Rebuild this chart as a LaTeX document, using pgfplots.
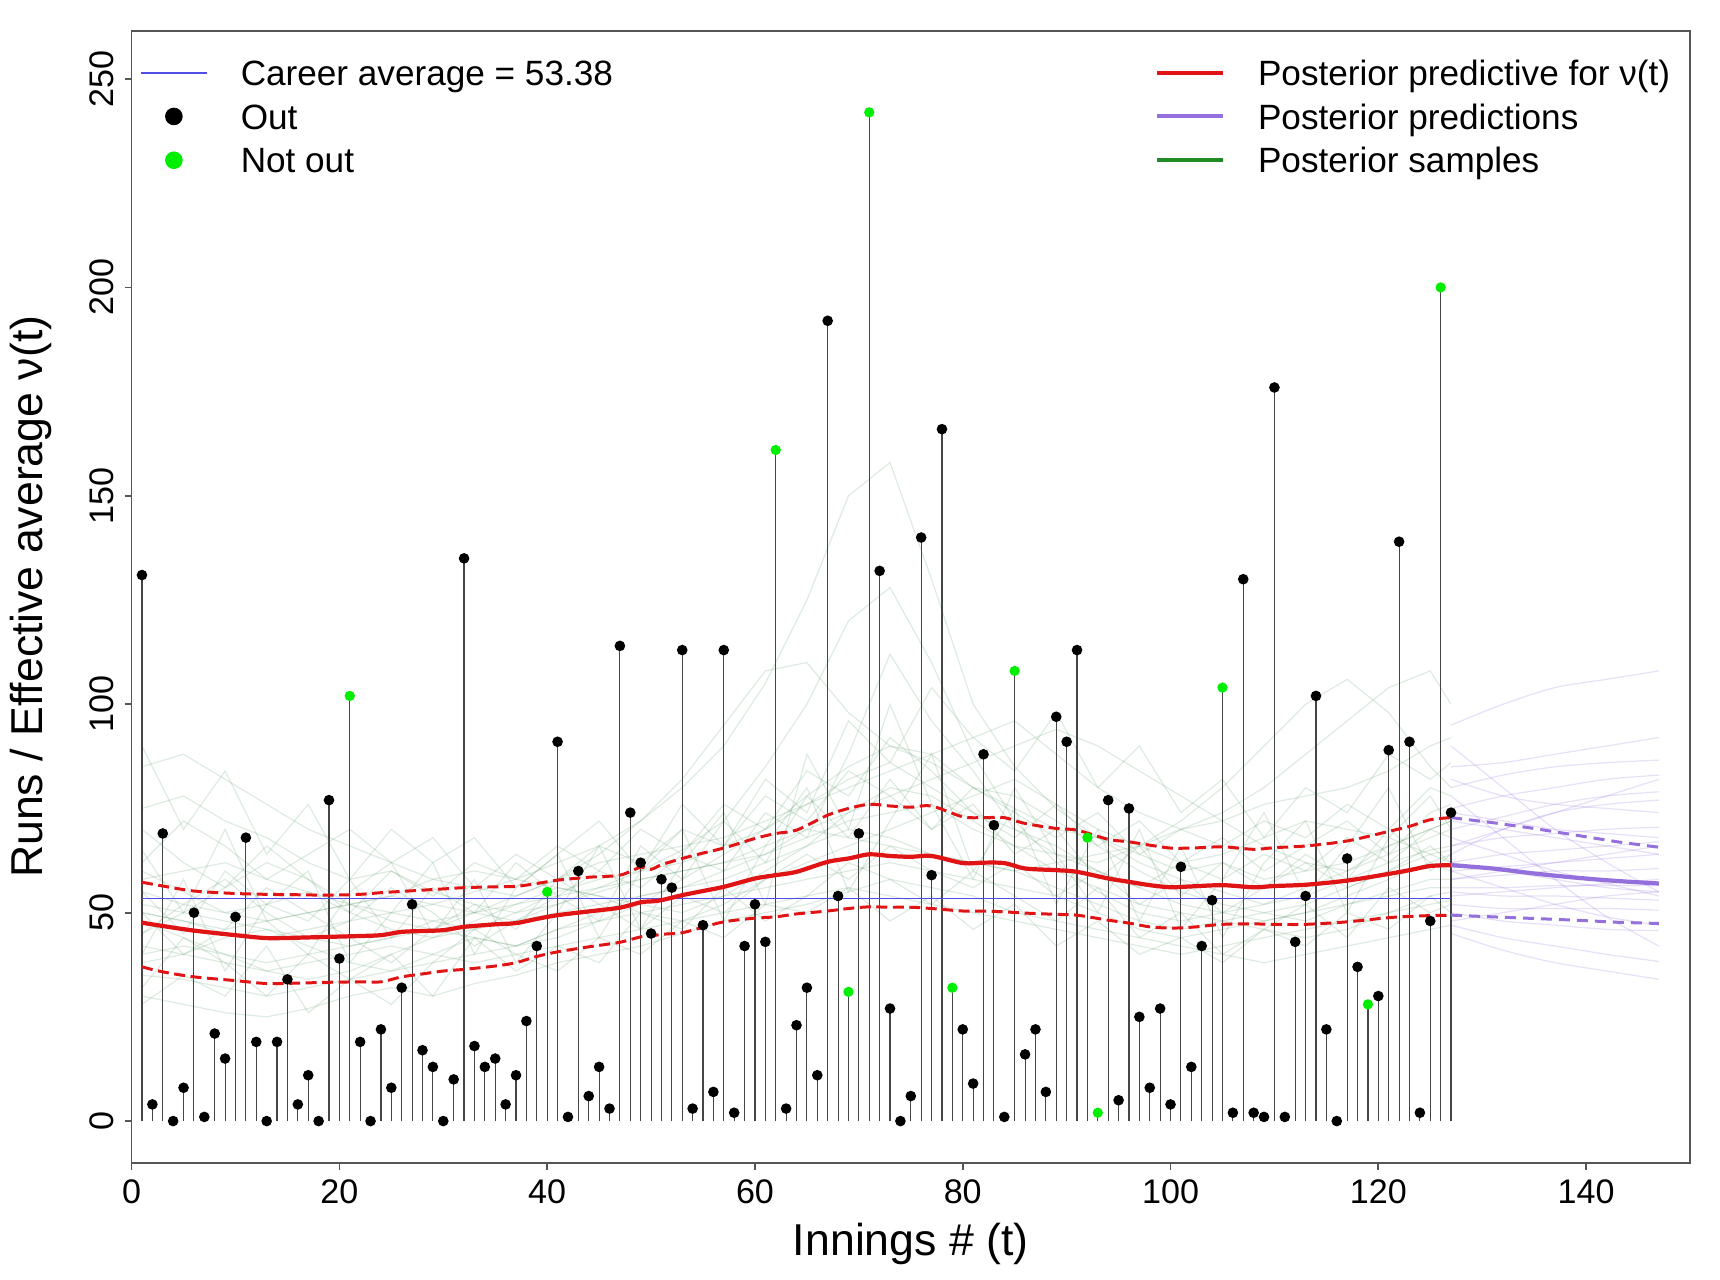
\documentclass[border=0pt]{standalone}
\usepackage{fontspec}
\setmainfont{Liberation Sans}
\usepackage{pgfplots}
\pgfplotsset{compat=1.18}
\usepackage{pgfplotstable}

\definecolor{stemc}{HTML}{454545}
\definecolor{avgblue}{HTML}{4F4FE8}
\definecolor{predred}{HTML}{E01414}
\definecolor{mpurple}{HTML}{9370DB}
\definecolor{fgreen}{HTML}{228B22}
\definecolor{sampc}{HTML}{3E8A4E}
\definecolor{ngreen}{HTML}{00EE00}
\definecolor{framec}{HTML}{555555}

\pgfplotstableread{
t r
1 131
2 4
3 69
4 0
5 8
6 50
7 1
8 21
9 15
10 49
11 68
12 19
13 0
14 19
15 34
16 4
17 11
18 0
19 77
20 39
22 19
23 0
24 22
25 8
26 32
27 52
28 17
29 13
30 0
31 10
32 135
33 18
34 13
35 15
36 4
37 11
38 24
39 42
41 91
42 1
43 60
44 6
45 13
46 3
47 114
48 74
49 62
50 45
51 58
52 56
53 113
54 3
55 47
56 7
57 113
58 2
59 42
60 52
61 43
63 3
64 23
65 32
66 11
67 192
68 54
70 69
72 132
73 27
74 0
75 6
76 140
77 59
78 166
80 22
81 9
82 88
83 71
84 1
86 16
87 22
88 7
89 97
90 91
91 113
94 77
95 5
96 75
97 25
98 8
99 27
100 4
101 61
102 13
103 42
104 53
106 2
107 130
108 2
109 1
110 176
111 1
112 43
113 54
114 102
115 22
116 0
117 63
118 37
120 30
121 89
122 139
123 91
124 2
125 48
127 74
}\outs

\pgfplotstableread{
t r
21 102
40 55
62 161
69 31
71 242
79 32
85 108
92 68
93 2
105 104
119 28
126 200
}\nouts

\pgfplotstableread{
t m u l
1 47.6 57.3 37.0
3 46.8 56.4 35.8
6 45.7 55.2 34.6
10 44.6 54.6 33.7
13 43.9 54.4 33.0
16 44.0 54.3 33.1
19 44.2 54.2 33.3
22 44.4 54.4 33.4
24 44.6 54.8 33.4
26 45.4 55.1 34.6
28 45.6 55.4 35.3
30 45.8 55.7 36.0
32 46.6 56.0 36.4
35 47.2 56.2 37.2
37 47.5 56.3 38.0
39 48.5 57.0 39.5
41 49.4 57.8 40.6
44 50.3 58.5 41.8
47 51.2 59.0 42.9
49 52.5 60.9 44.2
50 52.7 60.4 44.4
51 53.0 61.5 44.8
53 54.2 63.0 45.2
55 55.2 64.3 46.5
57 56.2 65.5 47.8
60 58.2 67.8 48.7
62 59.0 69.0 49.0
64 59.8 69.8 49.7
67 62.2 73.4 50.4
69 63.0 75.0 51.0
71 64.0 76.0 51.4
73 63.6 75.6 51.3
75 63.4 75.3 51.3
77 63.6 75.6 51.0
80 61.9 73.0 50.4
82 62.0 72.8 50.4
84 61.9 72.8 50.2
86 60.6 71.4 49.9
89 60.2 70.2 49.6
91 59.8 69.8 49.4
94 58.2 67.6 48.2
96 57.4 67.0 47.5
98 56.6 66.2 46.6
100 56.1 65.5 46.3
102 56.3 65.5 46.5
105 56.6 65.8 47.2
108 56.1 65.2 47.3
110 56.4 65.6 47.2
113 56.7 66.0 47.2
117 57.7 67.2 47.8
121 59.3 69.5 48.8
123 60.2 70.7 49.1
125 61.2 72.3 49.3
127 61.4 72.8 49.4
}\post

\pgfplotstableread{
t m u l
127 61.4 72.8 49.4
131 60.6 71.6 49.0
135 59.4 70.2 48.6
139 58.4 68.6 48.2
143 57.6 67.0 47.7
147 57.0 65.7 47.4
}\pred

\pgfplotstableread{
t s1 s2 s3 s4 s5 s6 s7 s8 s9 s10 s11 s12 s13 s14 s15 s16 s17 s18 s19 s20 s21 s22 s23 s24 s25
1 75 30 50 40 60 38 55 45 52 35 85 48 58 42 50 40 65 28 90 55 32 70 45 50 62
5 78 28 48 42 55 40 52 50 50 34 88 44 60 40 48 58 50 35 70 45 44 62 52 40 72
9 72 26 45 40 50 44 50 56 48 32 82 40 62 38 46 36 70 30 84 60 38 56 58 46 66
13 68 25 44 38 52 46 48 62 46 30 76 36 58 36 48 52 48 42 64 52 30 66 50 56 58
17 62 27 46 40 55 42 50 58 44 32 70 34 55 38 50 60 40 26 76 48 40 58 44 50 64
21 58 30 48 42 50 38 52 52 42 34 66 36 52 40 52 38 55 34 58 58 34 50 48 44 70
25 60 32 50 44 46 36 50 48 44 36 62 40 54 42 54 50 62 40 70 44 28 60 56 38 62
29 55 30 52 48 44 40 48 46 46 38 58 44 58 40 52 62 45 30 62 56 38 54 50 46 68
33 52 33 55 50 48 44 46 44 50 40 56 46 60 38 50 40 58 44 68 50 46 62 42 52 56
37 50 35 58 48 52 42 50 42 54 42 54 48 58 40 52 56 38 36 56 62 40 58 48 46 64
41 55 38 62 52 56 46 52 44 58 46 58 50 56 42 54 64 50 42 64 54 36 66 54 58 58
45 58 40 66 56 54 50 55 48 64 48 62 52 54 44 56 44 66 38 72 48 44 60 60 52 66
49 60 42 72 60 50 54 58 52 72 50 64 54 52 46 58 60 46 50 60 66 40 70 56 46 62
53 62 45 80 65 48 56 60 58 82 52 66 56 50 48 60 70 62 46 76 58 48 64 64 54 70
57 66 48 90 72 52 58 62 64 95 54 68 60 54 50 62 48 74 56 66 72 44 76 60 50 66
61 70 50 105 85 58 62 64 70 108 56 72 64 60 52 66 66 52 48 82 62 52 70 74 58 78
65 78 52 125 100 62 66 68 76 110 58 76 70 66 54 70 80 88 54 74 78 50 84 68 64 72
69 85 55 150 120 66 70 72 82 98 60 80 74 74 56 68 55 70 62 96 68 56 78 88 58 84
73 90 58 158 128 70 68 74 86 90 62 84 78 80 54 66 72 100 58 86 82 48 92 112 66 78
77 88 56 130 110 74 64 76 80 86 60 88 82 78 52 64 88 76 52 104 70 54 84 96 60 70
81 80 54 100 88 78 62 70 74 80 58 92 86 72 50 62 60 58 60 92 76 46 74 84 56 80
85 75 50 85 72 82 60 66 70 78 56 96 90 66 48 60 75 80 54 84 64 52 68 70 62 74
89 70 48 75 62 76 56 64 64 72 54 88 94 60 46 62 52 64 48 98 70 42 76 66 54 68
93 68 46 68 55 70 52 62 60 66 50 80 90 56 44 64 70 50 56 80 58 48 66 60 60 74
97 64 44 62 50 66 48 66 56 60 46 74 84 52 42 66 48 70 44 90 66 40 72 56 52 64
101 60 42 58 48 62 46 72 52 55 44 70 78 50 40 70 66 46 50 74 54 44 62 62 58 70
105 62 40 55 50 64 48 80 50 52 46 72 72 48 42 74 44 58 40 82 62 38 68 58 50 66
109 58 38 52 52 68 50 90 48 50 48 76 66 46 44 80 62 74 46 68 56 46 60 64 56 72
113 60 40 54 56 72 48 100 50 52 50 78 62 44 46 88 72 54 52 80 64 42 66 60 62 68
117 62 42 58 60 70 52 106 54 56 52 80 60 46 48 96 50 66 44 74 58 50 72 68 56 76
121 66 44 62 66 68 55 98 58 60 54 84 64 50 50 104 68 80 56 88 70 46 64 62 60 70
125 70 46 65 70 64 58 85 62 64 56 90 68 54 52 108 78 60 50 82 62 54 74 70 66 80
127 72 47 66 72 62 58 80 64 65 56 92 70 55 53 100 70 64 52 86 60 50 76 68 62 78
}\samples

\pgfplotstableread{
t p1 p2 p3 p4 p5 p6 p7 p8 p9 p10 p11 p12 p13 p14 p15 p16 p17 p18 p19 p20 p21 p22 p23 p24 p25 p26 p27 p28
127 95 80 75 70 82 66 62 60 58 56 55 52 50 78 47 45 64 90 72 68 58 54 62 85 48 66 60 74
132 100 83 78 73 78 68 64 61 59 56 54 51 48 68 44 41 70 80 70 64 60 55 60 86 50 70 56 72
137 104 85 80 76 76 69 65 62 60 56.5 54 51 47 58 42 38 74 70 68 60 62 56 58 88 52 74 52 70
142 106 86 82 78 75 70 66 63 60 56.5 53.5 51 46 49 40 36 76 62 66 57 64 57 56 90 54 78 49 69
147 108 86.6 83 79 74 70.5 67 64 60.6 56.5 53 50.6 45.7 42 38.3 34 77 55 64 54 66 58 55 92 55 82 47 68
}\psamples

\pgfplotsset{
  common/.style={
    at={(0,0)}, anchor=south west,
    scale only axis, width=155.84mm, height=113.23mm,
    xmin=0, xmax=150, ymin=-10.05, ymax=261.6,
    legend image code/.code={\draw[mark repeat=2,mark phase=2,##1] plot coordinates {(0mm,0mm) (3.3mm,0mm) (6.6mm,0mm)};},
    legend cell align=left,
  },
  leg/.style={
    legend style={draw=none, fill=none, inner sep=0pt, outer sep=0pt,
      anchor=north west, at={(axis description cs:#1,0.9741)},
      column sep=3.3mm, row sep=1.85mm,
      font=\fontsize{10}{12}\selectfont,
      nodes={inner sep=0pt, text height=2.53mm, text depth=0pt}},
  },
}

\begin{document}
\begin{tikzpicture}
\useasboundingbox (-13.16mm,-11.70mm) rectangle (158.84mm,116.30mm);
\begin{axis}[
  common, leg=0.0054,
  xtick={0,20,...,140}, ytick={0,50,...,250},
  tick pos=left, tick align=outside, major tick length=0.7mm,
  axis line style={draw=framec, line width=0.5pt},
  tick style={draw=framec, line width=0.5pt},
  /pgf/number format/assume math mode=true,
  ticklabel style={font=\fontsize{9.7}{11}\selectfont, inner sep=0pt},
  xticklabel shift=0.9mm,
  yticklabel style={rotate=90, anchor=south},
  yticklabel shift=0.96mm,
  xlabel={Innings \# (t)}, ylabel={Runs / Effective average ν(t)},
  label style={font=\fontsize{12.7}{14}\selectfont},
  xlabel style={at={(axis description cs:0.5,-0.0821)}, anchor=base},
  ylabel style={at={(axis description cs:-0.05685,0.5)}, anchor=base},
]
\pgfplotsinvokeforeach{1,...,25}{
  \addplot[sampc, opacity=0.17, line width=0.35pt, forget plot] table[x=t, y=s#1]{\samples};
}
\pgfplotsinvokeforeach{1,...,28}{
  \addplot[mpurple, opacity=0.22, line width=0.35pt, smooth, forget plot] table[x=t, y=p#1]{\psamples};
}
\addplot[ycomb, draw=stemc, line width=0.32pt, forget plot] table[x=t, y=r]{\outs};
\addplot[ycomb, draw=stemc, line width=0.32pt, forget plot] table[x=t, y=r]{\nouts};
\addplot[avgblue, line width=0.5pt, forget plot] coordinates {(1,53.38) (127,53.38)};
\addplot[predred, line width=0.85pt, dash pattern=on 1.1mm off 0.55mm, smooth, forget plot] table[x=t, y=u]{\post};
\addplot[predred, line width=0.85pt, dash pattern=on 1.1mm off 0.55mm, smooth, forget plot] table[x=t, y=l]{\post};
\addplot[predred, line width=1.2pt, smooth, forget plot] table[x=t, y=m]{\post};
\addplot[mpurple, line width=0.85pt, dash pattern=on 1.1mm off 0.7mm, forget plot] table[x=t, y=u]{\pred};
\addplot[mpurple, line width=0.85pt, dash pattern=on 1.1mm off 0.7mm, forget plot] table[x=t, y=l]{\pred};
\addplot[mpurple, line width=1.2pt, smooth, forget plot] table[x=t, y=m]{\pred};
\addplot[only marks, mark=*, mark size=1.3pt, black, forget plot] table[x=t, y=r]{\outs};
\addplot[only marks, mark=*, mark size=1.25pt, draw=ngreen, fill=ngreen, mark options={draw=ngreen, fill=ngreen}, forget plot] table[x=t, y=r]{\nouts};
\addlegendimage{avgblue, line width=0.5pt}
\addlegendentry{Career average = 53.38}
\addlegendimage{only marks, mark=*, mark size=2.3pt, black}
\addlegendentry{Out}
\addlegendimage{only marks, mark=*, mark size=2.3pt, draw=ngreen, fill=ngreen, mark options={draw=ngreen, fill=ngreen}}
\addlegendentry{Not out}
\end{axis}
\begin{axis}[common, leg=0.6567, hide axis]
\addlegendimage{predred, line width=1.15pt}
\addlegendentry{Posterior predictive for ν(t)}
\addlegendimage{mpurple, line width=1.15pt}
\addlegendentry{Posterior predictions}
\addlegendimage{fgreen, line width=1.15pt}
\addlegendentry{Posterior samples}
\end{axis}
\end{tikzpicture}
\end{document}
